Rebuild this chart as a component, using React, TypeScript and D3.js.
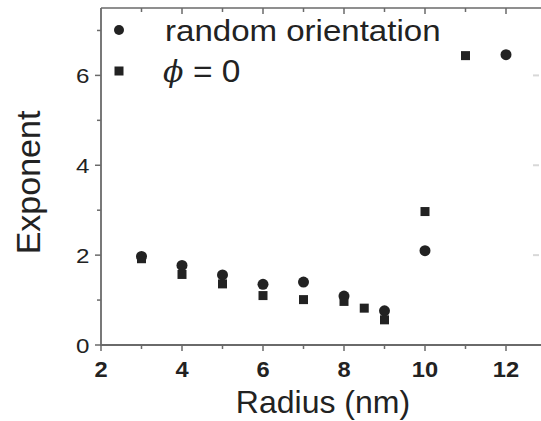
import React from "react";
import * as d3 from "d3";

const radiusRandom = [3, 4, 5, 6, 7, 8, 9, 10, 12];
const exponentRandom = [1.97, 1.77, 1.56, 1.35, 1.4, 1.09, 0.76, 2.1, 6.46];
const radiusPhi0 = [3, 4, 5, 6, 7, 8, 8.5, 9, 10, 11];
const exponentPhi0 = [1.92, 1.57, 1.36, 1.1, 1.01, 0.97, 0.82, 0.56, 2.97, 6.44];
const xTicks = [2, 4, 6, 8, 10, 12];
const xMinor = [3, 5, 7, 9, 11];
const yTicks = [0, 2, 4, 6];
const yMinor = [1, 3, 5, 7];
const legendLabels = ["random orientation", "= 0"];

const W = 541;
const H = 421;
const FONT = "'Liberation Sans', Arial, Helvetica, sans-serif";
const INK = "#222";
const AXIS = "#6a6a6a";

export default function App() {
  const x = d3.scaleLinear().domain([2, 13]).range([101, 546.5]);
  const y = d3.scaleLinear().domain([0, 7.5]).range([345, 8]);
  const left = x(2);
  const bottom = y(0);
  const top = y(7.5);

  return (
    <svg width={W} height={H} style={{ position: "absolute", left: 0, top: 0, background: "#fff" }}>
      <rect x={0} y={0} width={W} height={H} fill="#fff" />
      {/* frame */}
      <line x1={left} x2={W} y1={top} y2={top} stroke={AXIS} strokeWidth={1.5} />
      <line x1={left} x2={left} y1={top} y2={bottom} stroke={AXIS} strokeWidth={1.8} />
      <line x1={left - 1} x2={W} y1={bottom} y2={bottom} stroke={AXIS} strokeWidth={1.8} />

      {/* x ticks bottom (outward) and top (inward) */}
      {xTicks.concat(xMinor).map((t) => (
        <g key={"xt" + t}>
          <line x1={x(t)} x2={x(t)} y1={bottom} y2={bottom + (xTicks.includes(t) ? 6 : 4)} stroke={AXIS} strokeWidth={1.5} />
          {t > 2 && (
            <line x1={x(t)} x2={x(t)} y1={top} y2={top + (xTicks.includes(t) ? 6 : 4)} stroke={AXIS} strokeWidth={1.5} />
          )}
        </g>
      ))}
      {xTicks.map((t) => (
        <text
          key={"xl" + t}
          x={0}
          y={0}
          transform={`translate(${x(t)},377) scale(1.1,1)`}
          textAnchor="middle"
          fontFamily={FONT}
          fontWeight="bold"
          fontSize={21.5}
          fill={INK}
        >
          {t}
        </text>
      ))}

      {/* y ticks left (outward) */}
      {yTicks.concat(yMinor).map((t) => (
        <line key={"yt" + t} x1={left - (yTicks.includes(t) ? 6 : 4)} x2={left} y1={y(t)} y2={y(t)} stroke={AXIS} strokeWidth={1.5} />
      ))}
      {yTicks.map((t) => (
        <text
          key={"yl" + t}
          x={0}
          y={0}
          transform={`translate(89.5,${y(t) + 7.5}) scale(1.15,1)`}
          textAnchor="end"
          fontFamily={FONT}
          fontSize={21}
          fill={INK}
        >
          {t}
        </text>
      ))}
      {/* faint cropped right-axis marks */}
      {[2, 4, 6].map((t) => (
        <line key={"rt" + t} x1={533} x2={539} y1={y(t)} y2={y(t)} stroke="#d8d8d8" strokeWidth={2} />
      ))}

      {/* axis titles */}
      <text x={323} y={413} textAnchor="middle" fontFamily={FONT} fontSize={32} fill={INK}>
        Radius (nm)
      </text>
      <text transform={`translate(40,182.5) rotate(-90)`} textAnchor="middle" fontFamily={FONT} fontSize={34} fill={INK}>
        Exponent
      </text>

      {/* data */}
      {radiusRandom.map((r, i) => (
        <circle key={"c" + i} cx={x(r)} cy={y(exponentRandom[i])} r={5.5} fill={INK} />
      ))}
      {radiusPhi0.map((r, i) => (
        <rect key={"s" + i} x={x(r) - 4.5} y={y(exponentPhi0[i]) - 4.5} width={9} height={9} fill={INK} />
      ))}

      {/* legend */}
      <circle cx={119} cy={30} r={5} fill={INK} />
      <rect x={114.5} y={66.5} width={9} height={9} fill={INK} />
      <text x={0} y={0} fontFamily={FONT} fontSize={29} fill={INK} transform="translate(165,41) scale(1.14,1)">
        {legendLabels[0]}
      </text>
      <text x={163} y={82} fontFamily="'DejaVu Serif', 'Liberation Serif', serif" fontStyle="italic" fontSize={30} fill={INK}>
        ϕ
      </text>
      <text x={0} y={0} fontFamily={FONT} fontSize={31} fill={INK} transform="translate(193,82) scale(1.08,1)">
        {legendLabels[1]}
      </text>
    </svg>
  );
}
